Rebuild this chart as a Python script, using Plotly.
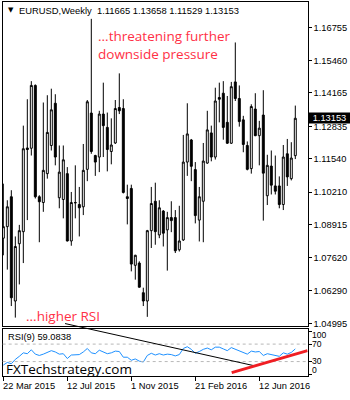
import plotly.graph_objects as go
import pandas as pd

# ---------------- data ----------------
opens = [1.0838, 1.0884, 1.1003, 1.0588, 1.0816, 1.0864, 1.1197, 1.1196, 1.1446, 1.1003,
         1.0980, 1.1095, 1.1207, 1.1375, 1.0999, 1.0992, 1.1095, 1.0827, 1.0980, 1.0972,
         1.0963, 1.1112, 1.1336, 1.1167, 1.1161, 1.1332, 1.1279, 1.1183, 1.1217, 1.1358,
         1.1354, 1.1003, 1.1036, 1.0730, 1.0739, 1.0621, 1.0588, 1.0868, 1.0985, 1.0851,
         1.0946, 1.0871, 1.0920, 1.0920, 1.0792, 1.0831, 1.1141, 1.1229, 1.1111, 1.0910,
         1.0985, 1.1137, 1.1257, 1.1161, 1.1398, 1.1415, 1.1299, 1.1216, 1.1460, 1.1394,
         1.1309, 1.1207, 1.1115, 1.1352, 1.1246, 1.1328, 1.1007, 1.1125, 1.1046, 1.1046,
         1.0972, 1.1174, 1.1075, 1.11665]
highs = [1.1055, 1.0989, 1.1029, 1.0845, 1.0891, 1.1286, 1.1391, 1.1463, 1.1450, 1.1009,
         1.1378, 1.1407, 1.1433, 1.1411, 1.1207, 1.1207, 1.1121, 1.1022, 1.1128, 1.1042,
         1.1213, 1.1388, 1.1711, 1.1170, 1.1345, 1.1457, 1.1338, 1.1315, 1.1388, 1.1494,
         1.1391, 1.1051, 1.1051, 1.0772, 1.0746, 1.0641, 1.0871, 1.1042, 1.1059, 1.0989,
         1.0950, 1.0943, 1.0985, 1.0950, 1.0967, 1.1249, 1.1375, 1.1233, 1.1141, 1.1042,
         1.1217, 1.1345, 1.1286, 1.1437, 1.1457, 1.1463, 1.1404, 1.1460, 1.1617, 1.1446,
         1.1325, 1.1223, 1.1371, 1.1415, 1.1305, 1.1427, 1.1170, 1.1187, 1.1167, 1.1084,
         1.1209, 1.1233, 1.1220, 1.13658]
lows = [1.0770, 1.0713, 1.0568, 1.0522, 1.0654, 1.0739, 1.0910, 1.1167, 1.0996, 1.0822,
        1.0943, 1.1075, 1.1187, 1.1128, 1.0957, 1.0917, 1.0825, 1.0808, 1.0917, 1.0845,
        1.0930, 1.1065, 1.1174, 1.1086, 1.1101, 1.1161, 1.1104, 1.1132, 1.1213, 1.1332,
        1.1016, 1.0893, 1.0706, 1.0673, 1.0641, 1.0568, 1.0525, 1.0799, 1.0812, 1.0838,
        1.0805, 1.0709, 1.0862, 1.0779, 1.0785, 1.0827, 1.1086, 1.1065, 1.0897, 1.0825,
        1.0822, 1.1134, 1.1144, 1.1151, 1.1299, 1.1230, 1.1213, 1.1213, 1.1384, 1.1282,
        1.1180, 1.1108, 1.1095, 1.1244, 1.1128, 1.0908, 1.0970, 1.1012, 1.1012, 1.0957,
        1.0950, 1.1046, 1.1068, 1.11529]
closes = [1.0884, 1.0963, 1.0601, 1.0805, 1.0868, 1.1194, 1.1191, 1.1446, 1.1003, 1.0983,
          1.1108, 1.1259, 1.1349, 1.1161, 1.1101, 1.1150, 1.0827, 1.0980, 1.0979, 1.0959,
          1.1108, 1.1381, 1.1183, 1.1141, 1.1332, 1.1286, 1.1191, 1.1209, 1.1354, 1.1345,
          1.1020, 1.0996, 1.0735, 1.0770, 1.0643, 1.0588, 1.0868, 1.0976, 1.0864, 1.0959,
          1.0858, 1.0920, 1.0908, 1.0788, 1.0827, 1.1141, 1.1253, 1.1124, 1.0928, 1.1003,
          1.1145, 1.1269, 1.1161, 1.1384, 1.1391, 1.1279, 1.1216, 1.1441, 1.1394, 1.1302,
          1.1211, 1.1112, 1.1362, 1.1246, 1.1276, 1.1097, 1.1128, 1.1049, 1.1025, 1.0972,
          1.1161, 1.1082, 1.1157, 1.13153]
rsi = [22, 28, 25, 35, 42, 50, 48, 57, 47, 44,
       47, 51, 55, 52, 47, 48, 37, 45, 46, 46,
       52, 60, 50, 48, 56, 52, 48, 50, 54, 53,
       40, 40, 33, 36, 31, 29, 44, 49, 45, 48,
       45, 47, 46, 43, 46, 60, 64, 58, 49, 53,
       58, 61, 57, 63, 63, 59, 55, 62, 58, 55,
       51, 47, 54, 52, 53, 44, 48, 46, 45, 42,
       50, 47, 51, 59.08]
rsi_last_text = "59.0838"

first_week = "2015-03-22"
dates = pd.date_range(first_week, periods=len(closes), freq="7D")

price_ticks = [1.16755, 1.15460, 1.14165, 1.12835, 1.11540, 1.10210,
               1.08915, 1.07620, 1.06290, 1.04995]
date_ticks = ["2015-03-22", "2015-07-12", "2015-11-01", "2016-02-21", "2016-06-12"]
date_labels = ["22 Mar 2015", "12 Jul 2015", "1 Nov 2015", "21 Feb 2016", "12 Jun 2016"]
rsi_levels = [70, 30]
rsi_scale_labels = ["100", "70", "30", "0"]

# ---------------- layout geometry ----------------
W, H = 350, 400
px = lambda v: v / W
py = lambda v: 1 - v / H
XDOM = [px(2.7), px(307.7)]
MAIN_DOM = [py(328), py(2)]
RSI_DOM = [py(379), py(331)]
FONT = "Liberation Sans, Arial, sans-serif"
RED = "#ff3045"

fig = go.Figure()
fig.add_trace(go.Candlestick(
    x=dates, open=opens, high=highs, low=lows, close=closes,
    increasing=dict(line=dict(color="black", width=1), fillcolor="white"),
    decreasing=dict(line=dict(color="black", width=1), fillcolor="black"),
    whiskerwidth=0, showlegend=False, hoverinfo="skip",
    xaxis="x", yaxis="y"))
fig.add_trace(go.Scatter(
    x=dates, y=rsi, mode="lines", line=dict(color="#1e90ff", width=1),
    showlegend=False, hoverinfo="skip", xaxis="x2", yaxis="y2"))

xrange = ["2015-03-20 22:00", "2016-09-04 17:00"]
common_x = dict(range=xrange, showgrid=False, zeroline=False, showline=True,
                linecolor="black", linewidth=1, mirror=True, domain=XDOM)
fig.update_layout(
    width=W, height=H, margin=dict(l=0, r=0, t=0, b=0),
    paper_bgcolor="white", plot_bgcolor="white",
    font=dict(family=FONT, size=9.3, color="black"),
    xaxis=dict(**common_x, anchor="y", showticklabels=False, ticks="",
               rangeslider=dict(visible=False)),
    xaxis2=dict(**common_x, anchor="y2", matches="x", showticklabels=False,
                ticks="outside", ticklen=4, tickcolor="black",
                tickvals=date_ticks),
    yaxis=dict(domain=MAIN_DOM, range=[1.04904, 1.17781], side="right",
               showgrid=False, zeroline=False, showline=True, linecolor="black",
               mirror=True, ticks="outside", ticklen=3, tickcolor="black",
               tickvals=price_ticks, ticktext=[f"{v:.5f}" for v in price_ticks],
               tickfont=dict(family=FONT, size=9.3, color="black"), anchor="x"),
    yaxis2=dict(domain=RSI_DOM, range=[-3.4, 105.7], side="right",
                showgrid=False, zeroline=False, showline=True, linecolor="black",
                mirror=True, ticks="outside", ticklen=3, tickcolor="black",
                tickvals=[100] + rsi_levels + [0], showticklabels=False, anchor="x2"),
)

# RSI level lines
for lv in rsi_levels:
    fig.add_shape(type="line", xref="paper", yref="y2", x0=XDOM[0], x1=XDOM[1],
                  y0=lv, y1=lv, line=dict(color="#b8b8b8", width=1, dash="3px,3px"))

# trend lines drawn by the analyst
fig.add_shape(type="line", xref="x", yref="paper",
              x0="2015-07-08", y0=py(326), x1="2016-06-01 12:00", y1=py(368.3),
              line=dict(color="black", width=1))
fig.add_shape(type="line", xref="x", yref="y2",
              x0="2016-04-24 17:00", y0=4.6, x1="2016-09-04 08:00", y1=55,
              line=dict(color="#f01e23", width=3))

ann = []
# header
ann.append(dict(x=px(5.5), y=py(10.5), xref="paper", yref="paper", xanchor="left",
                yanchor="middle", text="▼", showarrow=False,
                font=dict(family="DejaVu Sans", size=7, color="black")))
ann.append(dict(x=px(17), y=py(10.5), xref="paper", yref="paper", xanchor="left",
                yanchor="middle", showarrow=False,
                text=f"EURUSD,Weekly  {opens[-1]:.5f} {highs[-1]:.5f} "
                     f"{lows[-1]:.5f} {closes[-1]:.5f}",
                font=dict(family=FONT, size=9.4, color="black")))
# red comments
ann.append(dict(x=px(96), y=py(25.5), xref="paper", yref="paper", xanchor="left",
                yanchor="top", align="left", showarrow=False,
                text="...threatening further<br>downside pressure",
                font=dict(family="Open Sans", size=13.5, color=RED)))
ann.append(dict(x=px(24), y=py(318), xref="paper", yref="paper", xanchor="left",
                yanchor="middle", showarrow=False, text="...higher RSI",
                font=dict(family="Open Sans", size=13.5, color=RED)))
# RSI caption and watermark
ann.append(dict(x=px(6), y=py(340), xref="paper", yref="paper", xanchor="left",
                yanchor="middle", showarrow=False, text=f"RSI(9) {rsi_last_text}",
                font=dict(family=FONT, size=9.3, color="black")))
ann.append(dict(x=px(4), y=py(372), xref="paper", yref="paper", xanchor="left",
                yanchor="middle", showarrow=False, text="FXTechstrategy.com",
                font=dict(family="Open Sans", size=13.5, color="black")))
# RSI scale labels
for lab, yy in zip(rsi_scale_labels, [337.2, 346.7, 363.8, 373.0]):
    ann.append(dict(x=px(310.5), y=py(yy), xref="paper", yref="paper", xanchor="left",
                    yanchor="middle", showarrow=False, text=lab, borderpad=0,
                    font=dict(family=FONT, size=8.6, color="black")))
# date labels (left aligned at tick)
for d, lab in zip(date_ticks, date_labels):
    ann.append(dict(x=d, y=py(388.5), xref="x2", yref="paper", xanchor="left",
                    yanchor="middle", showarrow=False, text=lab, xshift=-2,
                    font=dict(family=FONT, size=9.3, color="black")))
# current price marker
ann.append(dict(x=px(308.3), y=closes[-1], xref="paper", yref="y", xanchor="left",
                yanchor="middle", showarrow=False, text=f"{closes[-1]:.5f}",
                bgcolor="black", borderpad=0, width=41, height=10, align="center",
                font=dict(family=FONT, size=9.3, color="white")))
fig.update_layout(annotations=ann)

fig.write_html("out.html")
